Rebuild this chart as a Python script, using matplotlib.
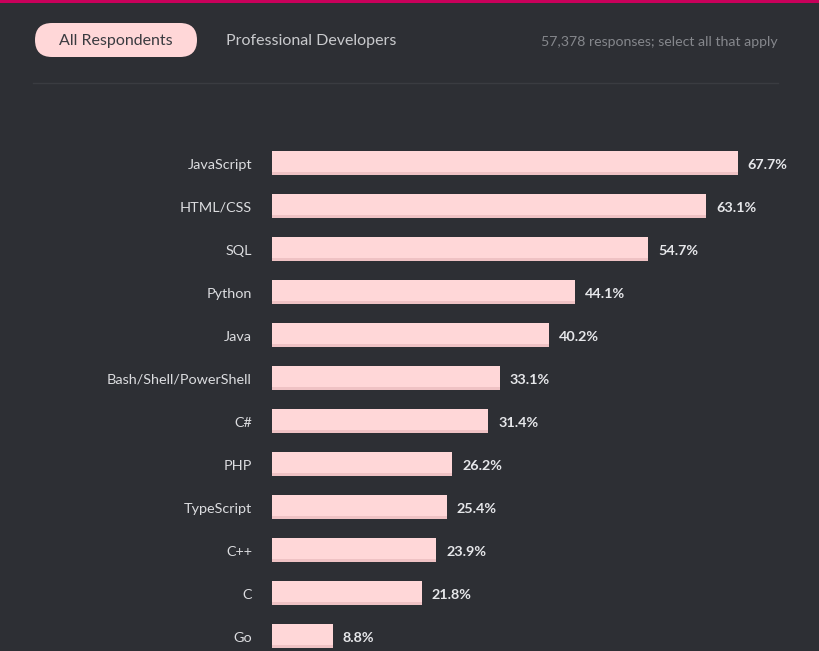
import matplotlib.pyplot as plt
from matplotlib.patches import FancyBboxPatch

# data
languages = ["JavaScript", "HTML/CSS", "SQL", "Python", "Java", "Bash/Shell/PowerShell",
             "C#", "PHP", "TypeScript", "C++", "C", "Go"]
percent = [67.7, 63.1, 54.7, 44.1, 40.2, 33.1, 31.4, 26.2, 25.4, 23.9, 21.8, 8.8]
tabs = ["All Respondents", "Professional Developers"]
note = "57,378 responses; select all that apply"

bg = "#2d2f34"
bar_col = "#ffd7d8"
bar_shadow = "#efc2c4"

plt.rcParams['font.family'] = ['Lato', 'DejaVu Sans']

W, H = 819, 651
fig = plt.figure(figsize=(W / 100, H / 100), dpi=100)
fig.patch.set_facecolor(bg)

# overlay in pixel coords for header
ov = fig.add_axes([0, 0, 1, 1])
ov.set_xlim(0, W)
ov.set_ylim(H, 0)
ov.axis("off")
ov.set_facecolor(bg)
ov.axhspan(0, 2.5, color="#c8005a", lw=0)
pill = FancyBboxPatch((35, 23), 162, 34, boxstyle="round,pad=0,rounding_size=17",
                      fc=bar_col, ec="none")
ov.add_patch(pill)
ov.text(116, 41.5, tabs[0], ha="center", va="center", fontsize=11.5, color="#3a3b40")
ov.text(226, 41.5, tabs[1], ha="left", va="center", fontsize=11.5, color="#c9cacd")
ov.text(778, 42, note, ha="right", va="center", fontsize=10.2, color="#85878c")
ov.plot([33, 778], [83, 83], color="#3a3c41", lw=1)

# bar chart axes: x=0 at pixel 272, 6.88 px per percent
px_per = 6.88
xmax = 80
ax = fig.add_axes([272 / W, 0, xmax * px_per / W, 1])
ax.patch.set_alpha(0)
y0, step = 163, 43
ax.set_ylim((H - y0) / step, -y0 / step)
ax.set_xlim(0, xmax)
ax.axis("off")

ypos = list(range(len(languages)))
bh = 24 / step
ax.barh(ypos, percent, height=bh, color=bar_shadow, lw=0)
ax.barh([y - 1.5 / step for y in ypos], percent, height=bh - 3 / step, color=bar_col, lw=0)

dy = 1.8 / step
for y, lang, p in zip(ypos, languages, percent):
    ax.text(-20 / px_per, y + dy, lang, ha="right", va="center", fontsize=10.4, color="#dcdde0")
    ax.text(p + 10 / px_per, y + dy, f"{p}%", ha="left", va="center", fontsize=10.4,
            fontweight="bold", color="#e6e7ea")

fig.savefig("out.png", dpi=100, facecolor=bg)
